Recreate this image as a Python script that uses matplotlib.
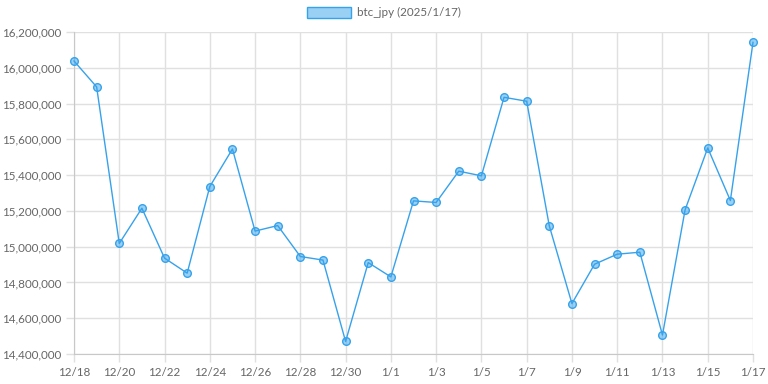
import matplotlib
matplotlib.use("Agg")
import matplotlib.pyplot as plt
from matplotlib.patches import Patch
from matplotlib.ticker import FuncFormatter, MultipleLocator

# daily btc_jpy closes, 12/18 .. 1/17
dates = ["12/18", "12/19", "12/20", "12/21", "12/22", "12/23", "12/24", "12/25",
         "12/26", "12/27", "12/28", "12/29", "12/30", "12/31", "1/1", "1/2",
         "1/3", "1/4", "1/5", "1/6", "1/7", "1/8", "1/9", "1/10", "1/11",
         "1/12", "1/13", "1/14", "1/15", "1/16", "1/17"]
prices = [16038000, 15893000, 15018000, 15215000, 14936000, 14852000, 15336000,
          15546000, 15087000, 15118000, 14945000, 14925000, 14470000, 14911000,
          14831000, 15256000, 15247000, 15422000, 15396000, 15835000, 15813000,
          15116000, 14682000, 14902000, 14958000, 14969000, 14506000, 15206000,
          15552000, 15258000, 16142000]
series_label = "btc_jpy (2025/1/17)"

blue = "#36A2EB"
fill = (54/255, 162/255, 235/255, 0.5)
grid_c = "#e0e0e0"
text_c = "#666666"

plt.rcParams['font.family'] = ['Lato', 'DejaVu Sans']

fig = plt.figure(figsize=(7.68, 3.84), dpi=100)
ax = fig.add_axes([74/768, 1 - 354/384, (753 - 74)/768, (354 - 32)/384])

x = list(range(len(dates)))
ax.plot(x, prices, color=blue, lw=1, marker='o', markersize=5.5,
        markerfacecolor=fill, markeredgecolor=blue, markeredgewidth=1,
        zorder=3, clip_on=False)

ax.set_xlim(0, len(dates) - 1)
ax.set_ylim(14400000, 16200000)
ax.yaxis.set_major_locator(MultipleLocator(200000))
ax.yaxis.set_major_formatter(FuncFormatter(lambda v, p: f"{int(v):,}"))
ax.set_xticks(x[::2])
ax.set_xticklabels(dates[::2])

ax.grid(True, color=grid_c, lw=1)
ax.set_axisbelow(True)
for s in ["top", "right"]:
    ax.spines[s].set_visible(False)
for s in ["left", "bottom"]:
    ax.spines[s].set_color("#c8c8c8")
ax.tick_params(axis='both', colors=grid_c, labelcolor=text_c, labelsize=8.4,
               length=6, width=1, pad=3)

handle = Patch(facecolor=fill, edgecolor=blue, linewidth=1)
fig.legend([handle], [series_label], loc='upper center', bbox_to_anchor=(0.5, 1.01),
           frameon=False, fontsize=8.4, labelcolor=text_c, handlelength=3.8,
           handleheight=1.1, handletextpad=0.5)

fig.savefig("out.png", dpi=100)
